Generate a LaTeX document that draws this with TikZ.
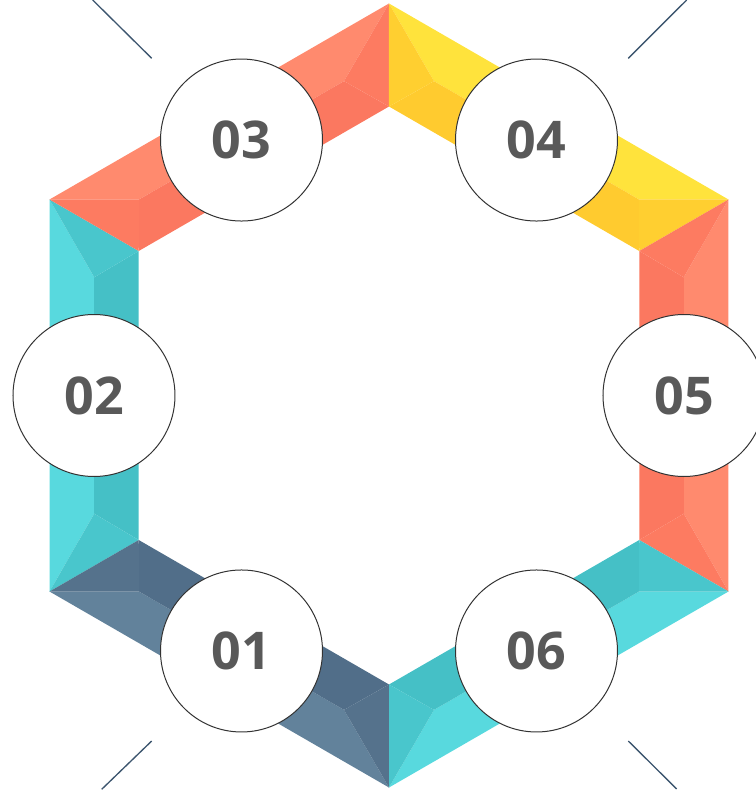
\documentclass[tikz,border=0pt]{standalone}
\usepackage{fontspec}
\setmainfont{Open Sans}
\usetikzlibrary{positioning}

\definecolor{cyanL}{HTML}{58D9DE}
\definecolor{cyanM}{HTML}{49C6CC}
\definecolor{cyanD}{HTML}{45C0C6}
\definecolor{coralL}{HTML}{FF8A6E}
\definecolor{coralM}{HTML}{FD7B61}
\definecolor{coralD}{HTML}{FB7860}
\definecolor{yelL}{HTML}{FFE33C}
\definecolor{yelM}{HTML}{FFCF30}
\definecolor{yelD}{HTML}{FFCB2F}
\definecolor{slateL}{HTML}{62829B}
\definecolor{slateM}{HTML}{55728C}
\definecolor{slateD}{HTML}{516E89}
\definecolor{numgray}{HTML}{595959}
\definecolor{rayblue}{HTML}{3C556E}

\begin{document}
\begin{tikzpicture}[
    x=0.75pt, y=0.75pt,
    badge/.style={circle, draw=black!80, line width=0.75pt, fill=white, minimum size=121.5pt, inner sep=0pt, font=\fontsize{39}{39}\selectfont\bfseries, text=numgray},
    ray/.style={draw=rayblue, line width=1pt}
  ]
    \clip (-389,-394.5) rectangle (367,395.5);
    \useasboundingbox (-389,-394.5) rectangle (367,395.5);

    % bevelled sides: outer strip, inner strip, two end caps
    \foreach \a/\col in {180/cyan, 120/coral, 60/yel, 0/coral, -60/cyan, -120/slate} {
      \fill[\col L] (\a+30:392) -- (\a-30:392) -- (\a-21.85:317.6) -- (\a+21.85:317.6) -- cycle;
      \fill[\col D] (\a+30:289) -- (\a-30:289) -- (\a-21.85:317.6) -- (\a+21.85:317.6) -- cycle;
      \fill[\col M] (\a+30:392) -- (\a+30:289) -- (\a+21.85:317.6) -- cycle;
      \fill[\col M] (\a-30:392) -- (\a-30:289) -- (\a-21.85:317.6) -- cycle;
    }

    \draw[ray] (-296.3,395.5) -- (-237.3,337.2);
    \draw[ray] (297.7,395.5) -- (239.3,337.2);
    \draw[ray] (-237.3,-345.5) -- (-287.3,-393.8);
    \draw[ray] (239.3,-345.5) -- (287.7,-393.5);

    \node[badge] (n01) at (-120:295) {01};
    \node[badge] (n02) at (180:295) {02};
    \node[badge] (n03) at (120:295) {03};
    \node[badge] (n04) at (60:295) {04};
    \node[badge] (n05) at (0:295) {05};
    \node[badge] (n06) at (-60:295) {06};
  \end{tikzpicture}
\end{document}
